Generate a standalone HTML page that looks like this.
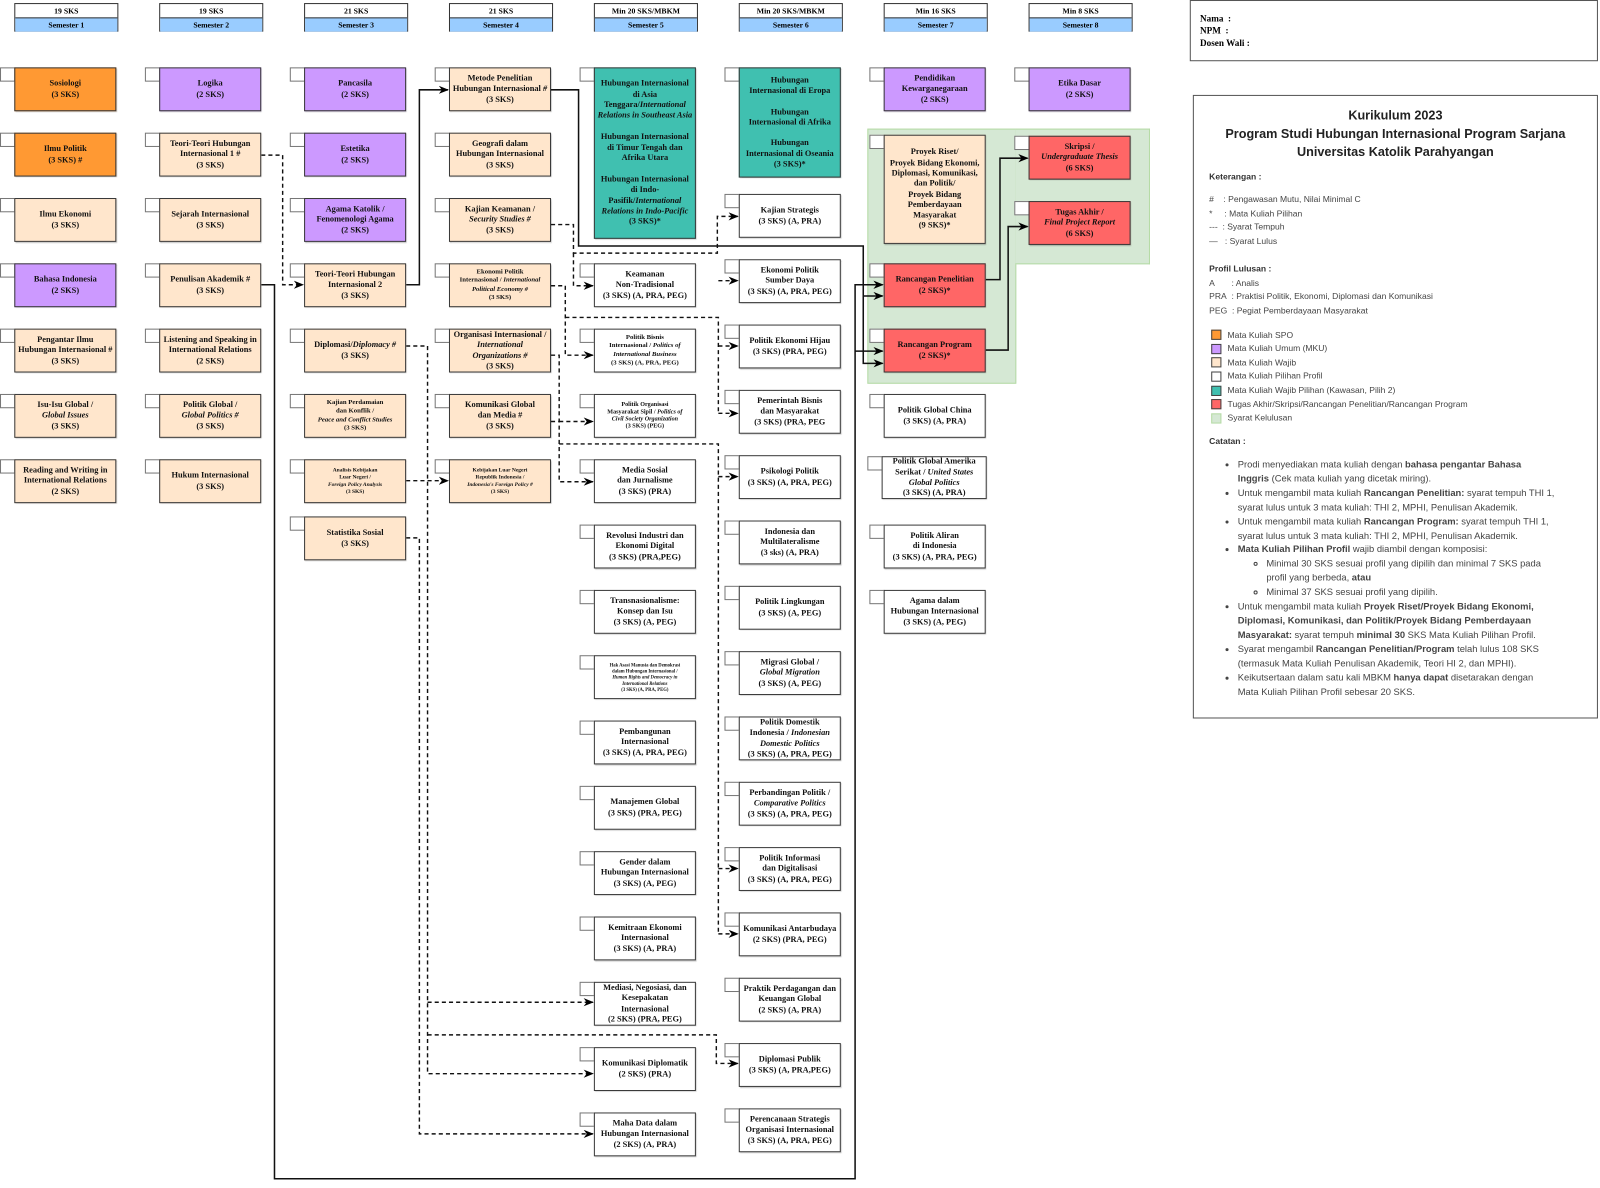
<!DOCTYPE html>
<html><head><meta charset="utf-8">
<style>
html,body{margin:0;padding:0;background:#fff;}
body{width:1600px;height:1188px;overflow:hidden;}
#w{position:absolute;left:0;top:0;width:1568px;height:1164px;transform:scale(1.0204,1.0206);transform-origin:0 0;}
.b{position:absolute;width:100px;box-sizing:border-box;border:1px solid #3a3a3a;display:flex;align-items:center;justify-content:center;text-align:center;font-family:"Liberation Serif",serif;font-weight:bold;font-size:8.2px;line-height:10.3px;color:#111;box-shadow:1px 1px 1px rgba(0,0,0,0.25);}
.b>div{width:100%;}
.c{position:absolute;width:15px;height:14px;box-sizing:border-box;border:1px solid #777;background:#fff;}
.O{background:#FF9933;}.P{background:#CC99FF;}.W{background:#FFE6CC;}.F{background:#fff;}.T{background:#40C0B0;}.R{background:#FF6666;}
.h{position:absolute;width:102px;height:28px;box-sizing:border-box;border:1px solid #333;font-family:"Liberation Serif",serif;font-weight:bold;font-size:7.6px;text-align:center;}
.h div{height:13px;line-height:13px;}
.h div+div{background:#99CCFF;border-top:1px solid #333;}
.s{font-size:6.6px;line-height:8.2px;}
.xs{font-size:5.4px;line-height:7px;}
.xxs{font-size:4.6px;line-height:6px;}
.g{position:absolute;background:#D5E8D4;border:1px solid #b5dba5;box-sizing:border-box;}
.panel{position:absolute;border:1px solid #555;box-sizing:border-box;background:#fff;}
.sans{font-family:"Liberation Sans",sans-serif;color:#333;}
.t{position:absolute;font-family:"Liberation Sans",sans-serif;font-size:8.4px;color:#444;white-space:nowrap;}
.sw{position:absolute;width:10px;height:10px;box-sizing:border-box;border:1px solid #444;}
ul{margin:0;padding:0;}
</style></head><body><div id="w">

<div class="h" style="left:14px;top:3px"><div>19 SKS</div><div>Semester 1</div></div>
<div class="h" style="left:156px;top:3px"><div>19 SKS</div><div>Semester 2</div></div>
<div class="h" style="left:298px;top:3px"><div>21 SKS</div><div>Semester 3</div></div>
<div class="h" style="left:440px;top:3px"><div>21 SKS</div><div>Semester 4</div></div>
<div class="h" style="left:582px;top:3px"><div>Min 20 SKS/MBKM</div><div>Semester 5</div></div>
<div class="h" style="left:724px;top:3px"><div>Min 20 SKS/MBKM</div><div>Semester 6</div></div>
<div class="h" style="left:866px;top:3px"><div>Min 16 SKS</div><div>Semester 7</div></div>
<div class="h" style="left:1008px;top:3px"><div>Min 8 SKS</div><div>Semester 8</div></div>

<div class="g" style="left:850px;top:126px;width:146px;height:250px"></div>
<div class="g" style="left:995px;top:126px;width:132px;height:133px;border-left:none"></div>

<svg style="position:absolute;left:0;top:0" width="1568" height="1164">
<defs><marker id="a" markerWidth="10" markerHeight="8" refX="9" refY="4" orient="auto" markerUnits="userSpaceOnUse"><path d="M0,0 L10,4 L0,8 L3,4 z" fill="#000"/></marker></defs>
<g fill="none" stroke="#111" stroke-width="1.5">
<path d="M398,279 H411 V88 H439" marker-end="url(#a)"/>
<path d="M540,88 H567 V241 H846 V290 H865" marker-end="url(#a)"/>
<path d="M846,290 V356 H865" marker-end="url(#a)"/>
<path d="M256,279 H269 V1155 H838 V279 H865" marker-end="url(#a)"/>
<path d="M838,344 H865" marker-end="url(#a)"/>
<path d="M966,274 H980 V155 H1007" marker-end="url(#a)"/>
<path d="M966,343 H988 V222 H1007" marker-end="url(#a)"/>
</g>
<g fill="none" stroke="#111" stroke-width="1.4" stroke-dasharray="4,3">
<path d="M256,152 H277 V279 H297" marker-end="url(#a)"/>
<path d="M540,220 H562 V248 H703 V212 H723" marker-end="url(#a)"/>
<path d="M562,248 V280 H581" marker-end="url(#a)"/>
<path d="M540,280 H554 V348 H581" marker-end="url(#a)"/>
<path d="M554,311 H704 V405"/>
<path d="M704,275 H723" marker-end="url(#a)"/>
<path d="M704,339 H723" marker-end="url(#a)"/>
<path d="M704,405 H723" marker-end="url(#a)"/>
<path d="M540,348 H548 V472 H581" marker-end="url(#a)"/>
<path d="M540,413 H548 M548,413 H581" marker-end="url(#a)"/>
<path d="M548,435 H704 V915"/>
<path d="M704,467 H723" marker-end="url(#a)"/>
<path d="M704,851 H723" marker-end="url(#a)"/>
<path d="M704,915 H723" marker-end="url(#a)"/>
<path d="M398,339 H419 V1052 H581" marker-end="url(#a)"/>
<path d="M419,982 H581" marker-end="url(#a)"/>
<path d="M419,1014 H702 V1042 H723" marker-end="url(#a)"/>
<path d="M398,471 H439" marker-end="url(#a)"/>
<path d="M398,527 H411 V1111 H581" marker-end="url(#a)"/>
</g>
</svg>

<!-- Column 1 -->
<div class="c" style="left:0;top:66px"></div><div class="b O" style="left:14px;top:66px;height:43px"><div>Sosiologi<br>(3 SKS)</div></div>
<div class="c" style="left:0;top:130px"></div><div class="b O" style="left:14px;top:130px;height:43px"><div>Ilmu Politik<br>(3 SKS) #</div></div>
<div class="c" style="left:0;top:194px"></div><div class="b W" style="left:14px;top:194px;height:43px"><div>Ilmu Ekonomi<br>(3 SKS)</div></div>
<div class="c" style="left:0;top:258px"></div><div class="b P" style="left:14px;top:258px;height:43px"><div>Bahasa Indonesia<br>(2 SKS)</div></div>
<div class="c" style="left:0;top:322px"></div><div class="b W" style="left:14px;top:322px;height:43px"><div>Pengantar Ilmu<br>Hubungan Internasional #<br>(3 SKS)</div></div>
<div class="c" style="left:0;top:386px"></div><div class="b W" style="left:14px;top:386px;height:43px"><div>Isu-Isu Global /<br><i>Global Issues</i><br>(3 SKS)</div></div>
<div class="c" style="left:0;top:450px"></div><div class="b W" style="left:14px;top:450px;height:43px"><div>Reading and Writing in<br>International Relations<br>(2 SKS)</div></div>

<!-- Column 2 -->
<div class="c" style="left:142px;top:66px"></div><div class="b P" style="left:156px;top:66px;height:43px"><div>Logika<br>(2 SKS)</div></div>
<div class="c" style="left:142px;top:130px"></div><div class="b W" style="left:156px;top:130px;height:43px"><div>Teori-Teori Hubungan<br>Internasional 1 #<br>(3 SKS)</div></div>
<div class="c" style="left:142px;top:194px"></div><div class="b W" style="left:156px;top:194px;height:43px"><div>Sejarah Internasional<br>(3 SKS)</div></div>
<div class="c" style="left:142px;top:258px"></div><div class="b W" style="left:156px;top:258px;height:43px"><div>Penulisan Akademik #<br>(3 SKS)</div></div>
<div class="c" style="left:142px;top:322px"></div><div class="b W" style="left:156px;top:322px;height:43px"><div>Listening and Speaking in<br>International Relations<br>(2 SKS)</div></div>
<div class="c" style="left:142px;top:386px"></div><div class="b W" style="left:156px;top:386px;height:43px"><div>Politik Global /<br><i>Global Politics #</i><br>(3 SKS)</div></div>
<div class="c" style="left:142px;top:450px"></div><div class="b W" style="left:156px;top:450px;height:43px"><div>Hukum Internasional<br>(3 SKS)</div></div>

<!-- Column 3 -->
<div class="c" style="left:284px;top:66px"></div><div class="b P" style="left:298px;top:66px;height:43px"><div>Pancasila<br>(2 SKS)</div></div>
<div class="c" style="left:284px;top:130px"></div><div class="b P" style="left:298px;top:130px;height:43px"><div>Estetika<br>(2 SKS)</div></div>
<div class="c" style="left:284px;top:194px"></div><div class="b P" style="left:298px;top:194px;height:43px"><div>Agama Katolik /<br>Fenomenologi Agama<br>(2 SKS)</div></div>
<div class="c" style="left:284px;top:258px"></div><div class="b W" style="left:298px;top:258px;height:43px"><div>Teori-Teori Hubungan<br>Internasional 2<br>(3 SKS)</div></div>
<div class="c" style="left:284px;top:322px"></div><div class="b W" style="left:298px;top:322px;height:43px"><div>Diplomasi/<i>Diplomacy #</i><br>(3 SKS)</div></div>
<div class="c" style="left:284px;top:386px"></div><div class="b W s" style="left:298px;top:386px;height:43px"><div>Kajian Perdamaian<br>dan Konflik /<br><i>Peace and Conflict Studies</i><br>(3 SKS)</div></div>
<div class="c" style="left:284px;top:450px"></div><div class="b W xs" style="left:298px;top:450px;height:43px"><div>Analisis Kebijakan<br>Luar Negeri /<br><i>Foreign Policy Analysis</i><br>(3 SKS)</div></div>
<div class="c" style="left:284px;top:506px"></div><div class="b W" style="left:298px;top:506px;height:43px"><div>Statistika Sosial<br>(3 SKS)</div></div>

<!-- Column 4 -->
<div class="c" style="left:426px;top:66px"></div><div class="b W" style="left:440px;top:66px;height:43px"><div>Metode Penelitian<br>Hubungan Internasional <i>#</i><br>(3 SKS)</div></div>
<div class="c" style="left:426px;top:130px"></div><div class="b W" style="left:440px;top:130px;height:43px"><div>Geografi dalam<br>Hubungan Internasional<br>(3 SKS)</div></div>
<div class="c" style="left:426px;top:194px"></div><div class="b W" style="left:440px;top:194px;height:43px"><div>Kajian Keamanan /<br><i>Security Studies #</i><br>(3 SKS)</div></div>
<div class="c" style="left:426px;top:258px"></div><div class="b W s" style="left:440px;top:258px;height:43px"><div>Ekonomi Politik<br>Internasional / <i>International</i><br><i>Political Economy #</i><br>(3 SKS)</div></div>
<div class="c" style="left:426px;top:322px"></div><div class="b W" style="left:440px;top:322px;height:43px"><div>Organisasi Internasional /<br><i>International<br>Organizations #</i><br>(3 SKS)</div></div>
<div class="c" style="left:426px;top:386px"></div><div class="b W" style="left:440px;top:386px;height:43px"><div>Komunikasi Global<br>dan Media #<br>(3 SKS)</div></div>
<div class="c" style="left:426px;top:450px"></div><div class="b W xs" style="left:440px;top:450px;height:43px"><div>Kebijakan Luar Negeri<br>Republik Indonesia /<br><i>Indonesia's Foreign Policy #</i><br>(3 SKS)</div></div>

<!-- Column 5 -->
<div class="c" style="left:568px;top:66px"></div><div class="b T" style="left:582px;top:66px;height:168px;line-height:10.4px"><div>Hubungan Internasional<br>di Asia<br>Tenggara/<i>International<br>Relations in Southeast Asia</i><br><br>Hubungan Internasional<br>di Timur Tengah dan<br>Afrika Utara<br><br>Hubungan Internasional<br>di Indo-<br>Pasifik/<i>International<br>Relations in Indo-Pacific</i><br>(3 SKS)*</div></div>
<div class="c" style="left:568px;top:258px"></div><div class="b F" style="left:582px;top:258px;height:43px"><div>Keamanan<br>Non-Tradisional<br>(3 SKS) (A, PRA, PEG)</div></div>
<div class="c" style="left:568px;top:322px"></div><div class="b F s" style="left:582px;top:322px;height:43px"><div>Politik Bisnis<br>Internasional / <i>Politics of<br>International Business</i><br>(3 SKS) (A, PRA, PEG)</div></div>
<div class="c" style="left:568px;top:386px"></div><div class="b F xs" style="left:582px;top:386px;height:43px;font-size:6px"><div>Politik Organisasi<br>Masyarakat Sipil / <i>Politics of<br>Civil Society Organization</i><br>(3 SKS) (PEG)</div></div>
<div class="c" style="left:568px;top:450px"></div><div class="b F" style="left:582px;top:450px;height:43px"><div>Media Sosial<br>dan Jurnalisme<br>(3 SKS) (PRA)</div></div>
<div class="c" style="left:568px;top:514px"></div><div class="b F" style="left:582px;top:514px;height:43px"><div>Revolusi Industri dan<br>Ekonomi Digital<br>(3 SKS) (PRA,PEG)</div></div>
<div class="c" style="left:568px;top:578px"></div><div class="b F" style="left:582px;top:578px;height:43px"><div>Transnasionalisme:<br>Konsep dan Isu<br>(3 SKS) (A, PEG)</div></div>
<div class="c" style="left:568px;top:642px"></div><div class="b F xxs" style="left:582px;top:642px;height:43px"><div>Hak Asasi Manusia dan Demokrasi<br>dalam Hubungan Internasional /<br><i>Human Rights and Democracy in<br>International Relations</i><br>(3 SKS) (A, PRA, PEG)</div></div>
<div class="c" style="left:568px;top:706px"></div><div class="b F" style="left:582px;top:706px;height:43px"><div>Pembangunan<br>Internasional<br>(3 SKS) (A, PRA, PEG)</div></div>
<div class="c" style="left:568px;top:770px"></div><div class="b F" style="left:582px;top:770px;height:43px"><div>Manajemen Global<br>(3 SKS) (PRA, PEG)</div></div>
<div class="c" style="left:568px;top:834px"></div><div class="b F" style="left:582px;top:834px;height:43px"><div>Gender dalam<br>Hubungan Internasional<br>(3 SKS) (A, PEG)</div></div>
<div class="c" style="left:568px;top:898px"></div><div class="b F" style="left:582px;top:898px;height:43px"><div>Kemitraan Ekonomi<br>Internasional<br>(3 SKS) (A, PRA)</div></div>
<div class="c" style="left:568px;top:962px"></div><div class="b F" style="left:582px;top:962px;height:43px"><div>Mediasi, Negosiasi, dan<br>Kesepakatan<br>Internasional<br>(2 SKS) (PRA, PEG)</div></div>
<div class="c" style="left:568px;top:1026px"></div><div class="b F" style="left:582px;top:1026px;height:43px"><div>Komunikasi Diplomatik<br>(2 SKS) (PRA)</div></div>
<div class="c" style="left:568px;top:1090px"></div><div class="b F" style="left:582px;top:1090px;height:43px"><div>Maha Data dalam<br>Hubungan Internasional<br>(2 SKS) (A, PRA)</div></div>

<!-- Column 6 -->
<div class="c" style="left:710px;top:66px"></div><div class="b T" style="left:724px;top:66px;height:108px"><div>Hubungan<br>Internasional di Eropa<br><br>Hubungan<br>Internasional di Afrika<br><br>Hubungan<br>Internasional di Oseania<br>(3 SKS)*</div></div>
<div class="c" style="left:710px;top:190px"></div><div class="b F" style="left:724px;top:190px;height:43px"><div>Kajian Strategis<br>(3 SKS) (A, PRA)</div></div>
<div class="c" style="left:710px;top:254px"></div><div class="b F" style="left:724px;top:254px;height:43px"><div>Ekonomi Politik<br>Sumber Daya<br>(3 SKS) (A, PRA, PEG)</div></div>
<div class="c" style="left:710px;top:318px"></div><div class="b F" style="left:724px;top:318px;height:43px"><div>Politik Ekonomi Hijau<br>(3 SKS) (PRA, PEG)</div></div>
<div class="c" style="left:710px;top:382px"></div><div class="b F" style="left:724px;top:382px;height:43px"><div>Pemerintah Bisnis<br>dan Masyarakat<br>(3 SKS) (PRA, PEG</div></div>
<div class="c" style="left:710px;top:446px"></div><div class="b F" style="left:724px;top:446px;height:43px"><div>Psikologi Politik<br>(3 SKS) (A, PRA, PEG)</div></div>
<div class="c" style="left:710px;top:510px"></div><div class="b F" style="left:724px;top:510px;height:43px"><div>Indonesia dan<br>Multilateralisme<br>(3 sks) (A, PRA)</div></div>
<div class="c" style="left:710px;top:574px"></div><div class="b F" style="left:724px;top:574px;height:43px"><div>Politik Lingkungan<br>(3 SKS) (A, PEG)</div></div>
<div class="c" style="left:710px;top:638px"></div><div class="b F" style="left:724px;top:638px;height:43px"><div>Migrasi Global /<br><i>Global Migration</i><br>(3 SKS) (A, PEG)</div></div>
<div class="c" style="left:710px;top:702px"></div><div class="b F" style="left:724px;top:702px;height:43px"><div>Politik Domestik<br>Indonesia / <i>Indonesian<br>Domestic Politics</i><br>(3 SKS) (A, PRA, PEG)</div></div>
<div class="c" style="left:710px;top:766px"></div><div class="b F" style="left:724px;top:766px;height:43px"><div>Perbandingan Politik /<br><i>Comparative Politics</i><br>(3 SKS) (A, PRA, PEG)</div></div>
<div class="c" style="left:710px;top:830px"></div><div class="b F" style="left:724px;top:830px;height:43px"><div>Politik Informasi<br>dan Digitalisasi<br>(3 SKS) (A, PRA, PEG)</div></div>
<div class="c" style="left:710px;top:894px"></div><div class="b F" style="left:724px;top:894px;height:43px"><div>Komunikasi Antarbudaya<br>(2 SKS) (PRA, PEG)</div></div>
<div class="c" style="left:710px;top:958px"></div><div class="b F" style="left:724px;top:958px;height:43px"><div>Praktik Perdagangan dan<br>Keuangan Global<br>(2 SKS) (A, PRA)</div></div>
<div class="c" style="left:710px;top:1022px"></div><div class="b F" style="left:724px;top:1022px;height:43px"><div>Diplomasi Publik<br>(3 SKS) (A, PRA,PEG)</div></div>
<div class="c" style="left:710px;top:1086px"></div><div class="b F" style="left:724px;top:1086px;height:43px"><div>Perencanaan Strategis<br>Organisasi Internasional<br>(3 SKS) (A, PRA, PEG)</div></div>

<!-- Column 7 -->
<div class="c" style="left:852px;top:66px"></div><div class="b P" style="left:866px;top:66px;height:43px"><div>Pendidikan<br>Kewarganegaraan<br>(2 SKS)</div></div>
<div class="c" style="left:852px;top:132px"></div><div class="b W" style="left:866px;top:132px;height:107px"><div>Proyek Riset/<br>Proyek Bidang Ekonomi,<br>Diplomasi, Komunikasi,<br>dan Politik/<br>Proyek Bidang<br>Pemberdayaan<br>Masyarakat<br>(9 SKS)*</div></div>
<div class="c" style="left:852px;top:258px"></div><div class="b R" style="left:866px;top:258px;height:43px"><div>Rancangan Penelitian<br>(2 SKS)*</div></div>
<div class="c" style="left:852px;top:322px"></div><div class="b R" style="left:866px;top:322px;height:43px"><div>Rancangan Program<br>(2 SKS)*</div></div>
<div class="c" style="left:852px;top:386px"></div><div class="b F" style="left:866px;top:386px;height:43px"><div>Politik Global China<br>(3 SKS) (A, PRA)</div></div>
<div class="c" style="left:850px;top:447px"></div><div class="b F" style="left:864px;top:447px;height:42px;width:103px"><div>Politik Global Amerika<br>Serikat / <i>United States<br>Global Politics</i><br>(3 SKS) (A, PRA)</div></div>
<div class="c" style="left:852px;top:514px"></div><div class="b F" style="left:866px;top:514px;height:43px"><div>Politik Aliran<br>di Indonesia<br>(3 SKS) (A, PRA, PEG)</div></div>
<div class="c" style="left:852px;top:578px"></div><div class="b F" style="left:866px;top:578px;height:43px"><div>Agama dalam<br>Hubungan Internasional<br>(3 SKS) (A, PEG)</div></div>

<!-- Column 8 -->
<div class="c" style="left:994px;top:66px"></div><div class="b P" style="left:1008px;top:66px;height:43px"><div>Etika Dasar<br>(2 SKS)</div></div>
<div class="c" style="left:994px;top:133px"></div><div class="b R" style="left:1008px;top:133px;height:43px"><div>Skripsi /<br><i>Undergraduate Thesis</i><br>(6 SKS)</div></div>
<div class="c" style="left:994px;top:197px"></div><div class="b R" style="left:1008px;top:197px;height:43px"><div>Tugas Akhir /<br><i>Final Project Report</i><br>(6 SKS)</div></div>

<!-- Right panels -->
<div class="panel" style="left:1166px;top:0;width:400px;height:60px;font-family:'Liberation Serif',serif;font-weight:bold;font-size:9px;line-height:12px;padding:11px 0 0 9px;">Nama&nbsp; :<br>NPM&nbsp; :<br>Dosen Wali :</div>

<div class="panel" style="left:1169px;top:93px;width:397px;height:611px;"></div>
<div class="sans" style="position:absolute;left:1169px;top:104px;width:397px;text-align:center;font-size:12.4px;line-height:18px;font-weight:bold;color:#222">Kurikulum 2023<br>Program Studi Hubungan Internasional Program Sarjana<br>Universitas Katolik Parahyangan</div>
<div class="t" style="left:1185px;top:168px;font-weight:bold;color:#333">Keterangan :</div>
<div class="t" style="left:1185px;top:190px">#&nbsp;&nbsp;&nbsp;&nbsp;: Pengawasan Mutu, Nilai Minimal C</div>
<div class="t" style="left:1185px;top:204px">*&nbsp;&nbsp;&nbsp;&nbsp;&nbsp;: Mata Kuliah Pilihan</div>
<div class="t" style="left:1185px;top:217px">---&nbsp;&nbsp;: Syarat Tempuh</div>
<div class="t" style="left:1185px;top:231px">—&nbsp;&nbsp;&nbsp;: Syarat Lulus</div>
<div class="t" style="left:1185px;top:258px;font-weight:bold;color:#333">Profil Lulusan :</div>
<div class="t" style="left:1185px;top:272px">A&nbsp;&nbsp;&nbsp;&nbsp;&nbsp;&nbsp;&nbsp;: Analis</div>
<div class="t" style="left:1185px;top:285px">PRA&nbsp; : Praktisi Politik, Ekonomi, Diplomasi dan Komunikasi</div>
<div class="t" style="left:1185px;top:299px">PEG&nbsp; : Pegiat Pemberdayaan Masyarakat</div>
<div class="sw O" style="left:1187px;top:323px"></div><div class="t" style="left:1203px;top:323px">Mata Kuliah SPO</div>
<div class="sw P" style="left:1187px;top:337px"></div><div class="t" style="left:1203px;top:336px">Mata Kuliah Umum (MKU)</div>
<div class="sw W" style="left:1187px;top:350px"></div><div class="t" style="left:1203px;top:350px">Mata Kuliah Wajib</div>
<div class="sw F" style="left:1187px;top:364px"></div><div class="t" style="left:1203px;top:363px">Mata Kuliah Pilihan Profil</div>
<div class="sw T" style="left:1187px;top:378px"></div><div class="t" style="left:1203px;top:377px">Mata Kuliah Wajib Pilihan (Kawasan, Pilih 2)</div>
<div class="sw R" style="left:1187px;top:391px"></div><div class="t" style="left:1203px;top:391px">Tugas Akhir/Skripsi/Rancangan Penelitian/Rancangan Program</div>
<div class="sw" style="left:1187px;top:405px;background:#D5E8D4;border-color:#b5dba5"></div><div class="t" style="left:1203px;top:404px">Syarat Kelulusan</div>
<div class="t" style="left:1185px;top:427px;font-weight:bold;color:#333">Catatan :</div>
<div class="sans" style="position:absolute;left:1213px;top:449px;width:336px;font-size:9.2px;line-height:13.9px;color:#444">
<ul style="list-style:disc;">
<li style="text-align:justify;">Prodi menyediakan mata kuliah dengan <b>bahasa pengantar Bahasa</b><br><b>Inggris</b> (Cek mata kuliah yang dicetak miring).</li>
<li>Untuk mengambil mata kuliah <b>Rancangan Penelitian:</b> syarat tempuh THI 1,<br>syarat lulus untuk 3 mata kuliah: THI 2, MPHI, Penulisan Akademik.</li>
<li>Untuk mengambil mata kuliah <b>Rancangan Program:</b> syarat tempuh THI 1,<br>syarat lulus untuk 3 mata kuliah: THI 2, MPHI, Penulisan Akademik.</li>
<li><b>Mata Kuliah Pilihan Profil</b> wajib diambil dengan komposisi:
<ul style="list-style:circle;padding-left:28px">
<li>Minimal 30 SKS sesuai profil yang dipilih dan minimal 7 SKS pada<br>profil yang berbeda, <b>atau</b></li>
<li>Minimal 37 SKS sesuai profil yang dipilih.</li></ul></li>
<li>Untuk mengambil mata kuliah <b>Proyek Riset/Proyek Bidang Ekonomi,</b><br><b>Diplomasi, Komunikasi, dan Politik/Proyek Bidang Pemberdayaan</b><br><b>Masyarakat:</b> syarat tempuh <b>minimal 30</b> SKS Mata Kuliah Pilihan Profil.</li>
<li>Syarat mengambil <b>Rancangan Penelitian/Program</b> telah lulus 108 SKS<br>(termasuk Mata Kuliah Penulisan Akademik, Teori HI 2, dan MPHI).</li>
<li>Keikutsertaan dalam satu kali MBKM <b>hanya dapat</b> disetarakan dengan<br>Mata Kuliah Pilihan Profil sebesar 20 SKS.</li>
</ul></div>

</div></body></html>
